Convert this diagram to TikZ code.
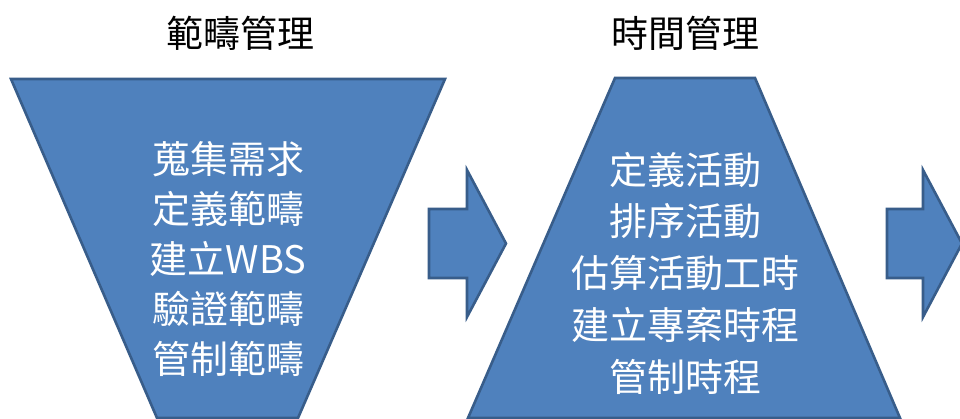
\documentclass[tikz,border=0pt]{standalone}
\usepackage{fontspec}
\setmainfont{Noto Sans CJK TC}
\newfontfamily\cjk{Noto Sans CJK TC}
\definecolor{shapefill}{HTML}{4F81BD}
\definecolor{shapeline}{HTML}{385D8A}
\tikzset{
  blockshape/.style={fill=shapefill, draw=shapeline, line width=2.6pt, line join=miter},
  arrowshape/.style={fill=shapefill, draw=shapeline, line width=2.6pt, line join=miter},
  titletext/.style={font=\cjk\fontsize{37}{40}\selectfont, text=black, inner sep=0pt},
  bodytext/.style={font=\cjk\fontsize{38}{50}\selectfont, text=white, align=center, inner sep=0pt},
}
\begin{document}
\begin{tikzpicture}[x=1pt,y=-1pt]
\clip (0,0) rectangle (960,419);
\fill[white] (0,0) rectangle (960,419);
% scope funnel (inverted trapezoid)
\coordinate (s1) at (11,79);
\coordinate (s2) at (445,79);
\coordinate (s3) at (298,418);
\coordinate (s4) at (157,418);
\draw[blockshape] (s1) -- (s2) -- (s3) -- (s4) -- cycle;
% time trapezoid
\coordinate (t1) at (615,78);
\coordinate (t2) at (755,78);
\coordinate (t3) at (900,418);
\coordinate (t4) at (468,418);
\draw[blockshape] (t1) -- (t2) -- (t3) -- (t4) -- cycle;
% arrows
\draw[arrowshape] (429,209) -- (467,209) -- (467,170) -- (506,243.5) -- (467,317) -- (467,278) -- (429,278) -- cycle;
\draw[arrowshape] (887,209) -- (923,209) -- (923,170) -- (962,243.5) -- (923,317) -- (923,278) -- (887,278) -- cycle;
% titles
\node[titletext] (title1) at (240,33) {範疇管理};
\node[titletext] (title2) at (685,33) {時間管理};
% body texts
\node[bodytext] (body1) at (228,259) {蒐集需求\\定義範疇\\建立WBS\\驗證範疇\\管制範疇};
\node[bodytext, font=\cjk\fontsize{38}{51.75}\selectfont] (body2) at (685,273) {定義活動\\排序活動\\估算活動工時\\建立專案時程\\管制時程};
\end{tikzpicture}
\end{document}
